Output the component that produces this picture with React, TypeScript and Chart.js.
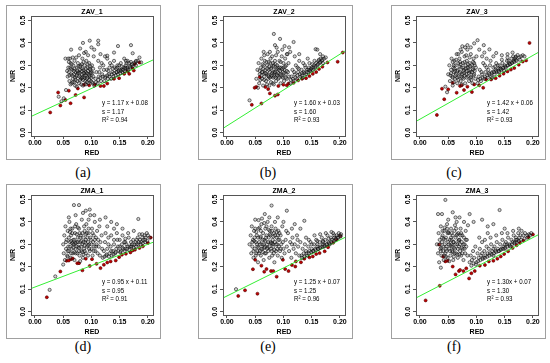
import React, { useEffect, useRef } from "react";
import { Chart, registerables } from "chart.js";
Chart.register(...registerables);
Chart.defaults.font.family = "'Liberation Sans', Arial, sans-serif";

type P = [number, number];

const X_TICKS = [0, 0.05, 0.1, 0.15, 0.2];
const X_TICK_LABELS = ["0.00", "0.05", "0.10", "0.15", "0.20"];
const Y_TICKS = [0, 0.1, 0.2, 0.3, 0.4, 0.5];
const Y_TICK_LABELS = ["0.0", "0.1", "0.2", "0.3", "0.4", "0.5"];
const X_LABEL = "RED";
const Y_LABEL = "NIR";

const TITLES = ["ZAV_1", "ZAV_2", "ZAV_3", "ZMA_1", "ZMA_2", "ZMA_3"];
const LETTERS = ["(a)", "(b)", "(c)", "(d)", "(e)", "(f)"];
const EQUATIONS = [
  ["y = 1.17 x + 0.08", "s = 1.17", "R² = 0.94"],
  ["y = 1.60 x + 0.03", "s = 1.60", "R² = 0.93"],
  ["y = 1.42 x + 0.06", "s = 1.42", "R² = 0.93"],
  ["y = 0.95 x + 0.11", "s = 0.95", "R² = 0.91"],
  ["y = 1.25 x + 0.07", "s = 1.25", "R² = 0.96"],
  ["y = 1.30x + 0.07", "s = 1.30", "R² = 0.93"],
];

// Fitted line end points (RED, NIR) at the plot edges
const A_LINE: P[] = [[-0.007, 0.072], [0.209, 0.324]];
const B_LINE: P[] = [[-0.007, 0.019], [0.209, 0.364]];
const C_LINE: P[] = [[-0.007, 0.050], [0.209, 0.357]];
const D_LINE: P[] = [[-0.007, 0.103], [0.209, 0.309]];
const E_LINE: P[] = [[-0.007, 0.061], [0.209, 0.331]];
const F_LINE: P[] = [[-0.007, 0.061], [0.209, 0.342]];

const A_GRAY: P[] = [
  [.058,.25],[.060,.27],[.061,.23],[.062,.29],[.063,.31],[.064,.26],[.065,.22],[.066,.28],[.067,.24],[.068,.30],[.069,.26],[.070,.32],[.071,.21],[.072,.27],[.073,.25],[.074,.29],[.075,.23],[.076,.31],[.077,.27],[.078,.22],[.079,.25],[.080,.28],[.081,.30],[.082,.24],[.083,.26],[.084,.33],[.085,.21],[.086,.28],[.087,.25],[.088,.30],[.089,.23],[.090,.27],[.091,.32],[.092,.24],[.093,.29],[.094,.22],[.095,.26],[.096,.31],[.097,.25],[.098,.28],[.099,.23],[.100,.27],[.101,.30],[.102,.22],[.103,.25],[.104,.34],
  [.059,.29],[.062,.33],[.066,.255],[.070,.285],[.074,.205],[.078,.345],[.082,.215],[.086,.315],[.090,.215],[.094,.345],[.063,.215],[.067,.335],[.071,.245],[.076,.265],[.080,.235],[.084,.285],[.088,.265],[.092,.265],[.096,.235],[.100,.245],[.057,.275],[.060,.315],[.073,.335],[.083,.305],[.087,.355],[.093,.305],
  [.061,.255],[.064,.285],[.067,.225],[.069,.275],[.072,.235],[.074,.255],[.077,.295],[.079,.265],[.081,.245],[.083,.275],[.085,.235],[.086,.265],[.088,.245],[.090,.285],[.092,.225],[.094,.275],[.096,.255],[.098,.295],[.099,.265],[.101,.225],[.103,.285],[.065,.305],[.070,.225],[.075,.275],[.080,.295],[.084,.245],[.089,.255],[.093,.245],[.097,.285],[.102,.265],
  [.105,.21],[.107,.24],[.109,.27],[.111,.22],[.113,.25],[.115,.29],[.117,.23],[.119,.26],[.121,.30],[.123,.23],[.125,.25],[.127,.28],[.129,.24],[.131,.26],[.133,.31],[.135,.24],[.137,.27],[.139,.25],[.141,.29],[.143,.255],[.145,.27],[.147,.26],[.149,.30],[.151,.265],[.153,.28],[.155,.27],[.157,.29],[.159,.275],[.161,.30],[.163,.285],[.165,.28],[.167,.31],[.169,.29],[.171,.30],[.173,.295],[.176,.31],[.179,.30],[.182,.32],[.112,.32],[.118,.31],[.124,.34],[.132,.29],[.140,.32],[.146,.30],[.152,.31],[.158,.33],[.164,.32],[.128,.33],[.136,.30],[.144,.285],[.150,.28],[.160,.29],[.170,.315],[.185,.335],
  [.108,.225],[.112,.235],[.116,.245],[.120,.25],[.124,.245],[.128,.255],[.132,.25],[.136,.26],[.140,.265],[.144,.27],[.148,.275],[.152,.275],[.156,.28],[.160,.285],[.164,.29],[.168,.295],[.172,.305],[.178,.315],[.114,.27],[.122,.28],[.130,.275],[.138,.285],[.146,.29],[.154,.295],[.162,.31],
  [.085,.40],[.097,.41],[.112,.41],[.112,.394],[.170,.39],[.147,.386],[.064,.37],[.080,.375],[.054,.33],[.059,.33],[.140,.357],[.116,.35],[.128,.343],[.173,.354],[.179,.32],[.188,.313],[.161,.32],[.100,.38],[.090,.36],[.105,.37],
  [.042,.16],[.051,.153],[.047,.14],[.055,.19],
];
const A_RED: P[] = [
  [.027,.09],[.041,.179],[.045,.121],[.054,.146],[.060,.187],[.063,.131],[.072,.168],[.076,.197],[.087,.157],[.087,.214],[.096,.211],[.106,.214],[.116,.208],[.122,.208],[.128,.219],[.140,.240],[.149,.243],[.158,.262],[.167,.262],[.173,.287],[.177,.306],[.185,.313],[.175,.277],[.164,.273],
];

const B_GRAY: P[] = [
  [.052,.24],[.054,.28],[.056,.31],[.057,.22],[.058,.26],[.060,.29],[.061,.33],[.062,.24],[.063,.27],[.064,.21],[.065,.30],[.066,.25],[.067,.32],[.068,.28],[.069,.23],[.070,.26],[.071,.30],[.072,.35],[.073,.24],[.074,.28],[.075,.21],[.076,.27],[.077,.31],[.078,.25],[.079,.29],[.080,.34],[.081,.22],[.082,.27],[.083,.30],[.084,.25],[.085,.32],[.086,.28],[.087,.23],[.088,.26],[.089,.30],[.090,.36],[.091,.24],[.092,.28],[.093,.32],[.094,.26],[.095,.22],[.096,.29],[.097,.34],[.098,.25],[.099,.27],[.100,.31],[.101,.23],[.102,.28],[.103,.33],[.104,.26],[.105,.30],[.106,.24],[.107,.35],[.108,.27],[.109,.31],[.110,.25],
  [.059,.235],[.063,.305],[.067,.265],[.071,.215],[.075,.295],[.079,.255],[.083,.215],[.087,.345],[.091,.265],[.095,.315],[.099,.245],[.103,.295],[.066,.345],[.074,.315],[.082,.245],[.090,.29],[.078,.225],[.086,.305],
  [.058,.275],[.061,.255],[.064,.285],[.066,.235],[.069,.265],[.071,.285],[.073,.255],[.076,.245],[.078,.285],[.080,.265],[.082,.295],[.084,.265],[.086,.245],[.088,.285],[.089,.255],[.092,.245],[.094,.275],[.096,.255],[.098,.285],[.101,.265],[.104,.245],[.106,.275],[.070,.315],[.077,.33],[.085,.27],[.093,.29],[.100,.29],[.062,.27],[.074,.25],[.081,.31],
  [.083,.44],[.094,.418],[.118,.404],[.157,.372],[.102,.386],[.088,.379],[.076,.36],[.098,.37],[.112,.36],[.106,.35],[.120,.34],[.128,.35],[.085,.39],[.065,.36],[.110,.38],
  [.112,.22],[.114,.25],[.116,.28],[.118,.23],[.120,.26],[.122,.30],[.124,.24],[.126,.27],[.128,.32],[.130,.25],[.132,.28],[.134,.245],[.136,.27],[.138,.30],[.140,.26],[.142,.28],[.144,.27],[.146,.31],[.148,.28],[.150,.29],[.152,.28],[.154,.30],[.156,.29],[.158,.31],[.160,.30],[.162,.32],[.164,.31],[.166,.33],[.168,.32],[.170,.34],[.172,.33],[.175,.335],[.125,.29],[.135,.31],[.145,.29],[.155,.32],[.165,.35],[.160,.37],[.170,.31],[.143,.33],[.133,.265],[.147,.275],
  [.113,.235],[.117,.24],[.121,.245],[.125,.255],[.129,.26],[.133,.255],[.137,.265],[.141,.27],[.145,.28],[.149,.285],[.153,.29],[.157,.295],[.161,.305],[.165,.315],[.169,.325],[.119,.27],[.127,.285],[.139,.29],[.151,.305],[.163,.325],
  [.040,.144],[.055,.20],
];
const B_RED: P[] = [
  [.044,.124],[.049,.20],[.052,.204],[.058,.248],[.061,.13],[.068,.204],[.073,.194],[.076,.175],[.085,.165],[.090,.17],[.091,.208],[.100,.214],[.106,.211],[.109,.219],[.118,.222],[.126,.233],[.133,.24],[.140,.243],[.146,.252],[.152,.262],[.158,.27],[.163,.284],[.169,.294],[.178,.313],[.196,.316],[.205,.357],
];

const C_GRAY: P[] = [
  [.050,.26],[.052,.30],[.053,.23],[.055,.28],[.056,.33],[.057,.25],[.058,.21],[.059,.29],[.060,.27],[.061,.32],[.062,.24],[.063,.30],[.064,.26],[.065,.35],[.066,.22],[.067,.28],[.068,.31],[.069,.25],[.070,.33],[.071,.27],[.072,.23],[.073,.29],[.074,.36],[.075,.26],[.076,.31],[.077,.24],[.078,.28],[.079,.34],[.080,.22],[.081,.30],[.082,.26],[.083,.32],[.084,.37],[.085,.25],[.086,.29],[.087,.23],[.088,.31],[.089,.27],[.090,.35],[.091,.25],[.092,.30],[.093,.22],[.094,.28],[.095,.33],[.096,.26],[.097,.30],[.098,.24],[.099,.29],[.100,.34],
  [.054,.255],[.058,.315],[.062,.275],[.066,.245],[.070,.295],[.074,.215],[.078,.265],[.082,.345],[.086,.275],[.090,.245],[.094,.315],[.060,.225],[.068,.35],[.076,.29],[.084,.29],[.092,.27],[.072,.37],[.080,.38],
  [.055,.265],[.058,.245],[.061,.285],[.063,.255],[.066,.275],[.068,.235],[.070,.265],[.072,.305],[.075,.245],[.077,.275],[.079,.255],[.081,.285],[.083,.245],[.085,.305],[.087,.265],[.089,.295],[.091,.235],[.093,.285],[.095,.255],[.097,.275],[.064,.325],[.071,.315],[.079,.315],[.088,.335],[.096,.31],[.060,.30],[.083,.275],[.073,.25],
  [.102,.412],[.084,.39],[.096,.398],[.114,.357],[.123,.371],[.164,.357],[.170,.339],[.105,.37],[.110,.34],[.118,.33],[.090,.38],[.075,.385],[.130,.34],[.145,.345],[.155,.35],[.135,.355],[.113,.39],
  [.102,.22],[.104,.25],[.106,.28],[.108,.23],[.110,.26],[.112,.31],[.114,.24],[.116,.27],[.118,.29],[.120,.245],[.122,.265],[.124,.30],[.126,.25],[.128,.27],[.130,.29],[.132,.26],[.134,.28],[.136,.27],[.138,.30],[.140,.27],[.142,.285],[.144,.28],[.146,.31],[.148,.29],[.150,.30],[.152,.29],[.154,.32],[.156,.30],[.158,.31],[.160,.305],[.162,.33],[.164,.315],[.166,.32],[.168,.33],[.170,.325],[.173,.346],[.176,.335],[.179,.34],[.182,.345],[.185,.34],[.125,.32],[.135,.31],[.145,.325],[.155,.335],[.165,.34],[.115,.30],[.128,.245],[.139,.285],[.149,.275],
  [.103,.235],[.107,.24],[.111,.245],[.115,.25],[.119,.255],[.123,.26],[.127,.265],[.131,.27],[.135,.275],[.139,.275],[.143,.285],[.147,.29],[.151,.295],[.155,.30],[.159,.305],[.163,.31],[.167,.315],[.171,.32],[.177,.325],[.109,.27],[.121,.28],[.133,.295],[.141,.30],[.157,.32],[.169,.335],
  [.045,.205],[.048,.18],
];
const C_RED: P[] = [
  [.030,.079],[.039,.196],[.043,.149],[.050,.193],[.058,.222],[.065,.178],[.071,.208],[.074,.211],[.078,.19],[.084,.205],[.092,.181],[.096,.215],[.105,.211],[.112,.20],[.117,.237],[.126,.237],[.134,.243],[.141,.254],[.148,.263],[.155,.273],[.161,.281],[.167,.288],[.175,.303],[.182,.317],[.188,.322],[.194,.40],
];

const D_GRAY: P[] = [
  [.050,.30],[.051,.26],[.052,.34],[.053,.23],[.054,.38],[.055,.28],[.056,.32],[.057,.25],[.058,.36],[.059,.29],[.060,.27],[.061,.40],[.062,.31],[.063,.24],[.064,.34],[.065,.28],[.066,.37],[.067,.26],[.068,.32],[.069,.30],[.070,.23],[.071,.35],[.072,.28],[.073,.39],[.074,.31],[.075,.26],[.076,.33],[.077,.29],[.078,.37],[.079,.25],[.080,.31],[.081,.34],[.082,.27],[.083,.41],[.084,.30],[.085,.24],[.086,.33],[.087,.28],[.088,.36],[.089,.31],[.090,.26],[.091,.39],[.092,.29],[.093,.33],[.094,.25],[.095,.35],[.096,.30],[.097,.27],[.098,.43],[.099,.32],[.100,.28],[.101,.37],[.102,.25],[.103,.31],[.104,.34],[.105,.29],[.106,.40],[.107,.27],[.108,.33],[.109,.30],[.110,.36],[.111,.26],[.112,.32],[.113,.29],[.114,.38],[.115,.25],[.116,.31],[.118,.34],[.119,.28],
  [.058,.245],[.062,.355],[.066,.305],[.070,.265],[.074,.345],[.078,.285],[.082,.315],[.086,.255],[.090,.345],[.094,.295],[.072,.305],[.080,.225],[.064,.315],[.088,.295],[.076,.375],
  [.055,.31],[.058,.27],[.060,.33],[.062,.29],[.064,.26],[.066,.35],[.068,.30],[.070,.32],[.072,.26],[.074,.29],[.076,.31],[.078,.27],[.080,.33],[.082,.29],[.084,.35],[.086,.31],[.088,.27],[.090,.32],[.092,.35],[.094,.31],[.096,.28],[.098,.33],[.100,.30],[.102,.35],[.104,.27],[.106,.32],[.108,.29],[.063,.37],[.071,.38],[.079,.35],[.087,.38],[.095,.37],[.068,.285],[.084,.265],
  [.069,.475],[.078,.475],[.090,.45],[.085,.44],[.097,.455],[.060,.42],[.072,.43],[.105,.43],[.115,.41],[.125,.42],[.135,.40],[.183,.413],[.145,.39],[.155,.37],[.128,.38],[.095,.41],
  [.120,.24],[.122,.27],[.124,.31],[.126,.25],[.128,.28],[.130,.33],[.132,.26],[.134,.29],[.136,.25],[.138,.27],[.140,.30],[.142,.26],[.144,.28],[.146,.32],[.148,.27],[.150,.29],[.152,.27],[.154,.30],[.156,.28],[.158,.31],[.160,.28],[.162,.30],[.164,.29],[.166,.33],[.168,.29],[.170,.31],[.172,.30],[.174,.32],[.176,.30],[.178,.31],[.180,.30],[.182,.33],[.184,.31],[.186,.32],[.188,.31],[.190,.33],[.192,.32],[.194,.34],[.196,.33],[.198,.35],[.200,.34],[.203,.33],[.135,.34],[.145,.35],[.155,.34],[.165,.35],[.175,.36],[.150,.32],[.160,.325],[.170,.29],[.185,.345],[.195,.31],[.125,.35],[.140,.37],
  [.123,.245],[.127,.255],[.131,.245],[.135,.27],[.139,.255],[.143,.265],[.147,.29],[.151,.265],[.155,.285],[.159,.27],[.163,.28],[.167,.275],[.171,.29],[.175,.285],[.179,.29],[.183,.30],[.187,.30],[.191,.305],[.195,.32],[.199,.315],[.130,.30],[.140,.32],[.160,.31],[.180,.32],[.190,.345],
  [.026,.097],[.036,.157],[.050,.21],
];
const D_RED: P[] = [
  [.021,.064],[.045,.179],[.056,.227],[.060,.228],[.064,.234],[.067,.237],[.075,.216],[.078,.216],[.084,.184],[.090,.236],[.097,.204],[.101,.234],[.109,.213],[.116,.194],[.122,.209],[.128,.219],[.134,.224],[.143,.228],[.149,.243],[.154,.254],[.161,.258],[.169,.264],[.173,.273],[.177,.276],[.185,.284],[.191,.291],[.200,.306],[.205,.33],
];

const E_GRAY: P[] = [
  [.040,.30],[.042,.34],[.043,.26],[.044,.38],[.045,.29],[.046,.32],[.047,.24],[.048,.36],[.049,.28],[.050,.41],[.051,.31],[.052,.26],[.053,.34],[.054,.29],[.055,.22],[.056,.37],[.057,.31],[.058,.27],[.059,.33],[.060,.25],[.061,.39],[.062,.30],[.063,.28],[.064,.35],[.065,.23],[.066,.32],[.067,.29],[.068,.37],[.069,.26],[.070,.34],[.071,.30],[.072,.40],[.073,.27],[.074,.33],[.075,.24],[.076,.36],[.077,.31],[.078,.28],[.079,.38],[.080,.25],[.081,.32],[.082,.29],[.083,.35],[.084,.22],[.085,.31],[.086,.37],[.087,.27],[.088,.33],[.089,.30],[.090,.25],[.091,.36],[.092,.29],[.093,.32],[.094,.27],[.095,.34],[.096,.30],[.097,.24],[.098,.38],[.099,.31],[.100,.28],
  [.048,.315],[.052,.355],[.056,.285],[.060,.335],[.064,.265],[.068,.315],[.072,.285],[.076,.345],[.080,.305],[.084,.275],[.088,.355],[.058,.375],[.066,.395],[.074,.365],[.082,.335],
  [.045,.31],[.047,.27],[.049,.33],[.051,.25],[.053,.30],[.055,.33],[.057,.26],[.059,.30],[.061,.28],[.063,.32],[.065,.30],[.067,.26],[.069,.33],[.071,.28],[.073,.31],[.075,.29],[.077,.34],[.079,.27],[.081,.30],[.083,.26],[.085,.34],[.087,.30],[.089,.28],[.091,.32],[.093,.35],[.095,.28],[.050,.37],[.060,.36],[.070,.38],[.080,.36],[.090,.34],[.054,.27],[.066,.285],[.078,.305],
  [.079,.473],[.106,.45],[.067,.435],[.137,.405],[.056,.408],[.090,.42],[.075,.42],[.100,.40],[.120,.39],[.062,.415],[.085,.40],[.115,.37],[.130,.37],
  [.102,.26],[.104,.32],[.106,.29],[.108,.35],[.110,.27],[.112,.31],[.114,.24],[.116,.33],[.118,.28],[.120,.30],[.122,.26],[.124,.34],[.126,.29],[.128,.25],[.130,.31],[.105,.36],[.115,.30],[.125,.32],
  [.132,.25],[.134,.28],[.136,.26],[.138,.30],[.140,.27],[.142,.25],[.144,.29],[.146,.27],[.148,.31],[.150,.28],[.152,.27],[.154,.30],[.156,.28],[.158,.32],[.160,.29],[.162,.28],[.164,.31],[.166,.29],[.168,.33],[.170,.30],[.172,.29],[.174,.32],[.176,.30],[.178,.34],[.180,.31],[.182,.30],[.184,.33],[.186,.32],[.188,.35],[.190,.33],[.192,.32],[.194,.34],[.196,.33],[.198,.35],[.200,.34],[.202,.345],[.145,.32],[.155,.34],[.165,.345],[.175,.35],[.185,.355],[.160,.315],[.170,.315],[.140,.33],
  [.133,.24],[.137,.245],[.141,.26],[.145,.26],[.149,.265],[.153,.27],[.157,.275],[.161,.28],[.165,.285],[.169,.29],[.173,.295],[.177,.30],[.181,.305],[.185,.31],[.189,.315],[.193,.325],[.197,.33],[.201,.335],[.150,.30],[.160,.30],[.170,.31],[.180,.325],[.190,.34],
  [.016,.10],
];
const E_RED: P[] = [
  [.020,.07],[.032,.095],[.054,.08],[.046,.189],[.050,.231],[.061,.205],[.066,.178],[.070,.19],[.078,.181],[.082,.181],[.088,.156],[.103,.19],[.109,.181],[.115,.208],[.121,.201],[.122,.224],[.131,.22],[.137,.236],[.146,.242],[.152,.246],[.158,.257],[.164,.261],[.173,.269],[.179,.287],[.188,.307],[.194,.322],[.201,.337],[.099,.231],
];

const F_GRAY: P[] = [
  [.030,.30],[.032,.26],[.033,.35],[.034,.22],[.035,.32],[.036,.28],[.037,.38],[.038,.25],[.039,.31],[.040,.34],[.041,.27],[.042,.23],[.043,.36],[.044,.30],[.045,.26],[.046,.33],[.047,.29],[.048,.39],[.049,.24],[.050,.31],[.051,.35],[.052,.28],[.053,.32],[.054,.25],[.055,.37],[.056,.30],[.057,.27],[.058,.34],[.059,.23],[.060,.31],[.061,.36],[.062,.28],[.063,.33],[.064,.26],[.065,.40],[.066,.30],[.067,.24],[.068,.35],[.069,.29],[.070,.32],[.071,.27],[.072,.37],[.073,.25],[.074,.31],[.075,.34],[.076,.28],[.077,.23],[.078,.33],[.079,.30],[.080,.26],[.081,.36],[.082,.29],[.083,.32],[.084,.25],
  [.038,.285],[.042,.325],[.046,.245],[.050,.355],[.054,.295],[.058,.265],[.062,.385],[.066,.345],[.070,.255],[.074,.285],[.044,.375],[.052,.225],[.060,.245],[.068,.315],[.056,.32],
  [.035,.30],[.037,.27],[.039,.33],[.041,.29],[.043,.25],[.045,.32],[.047,.27],[.049,.35],[.051,.30],[.053,.27],[.055,.33],[.057,.29],[.059,.31],[.061,.26],[.063,.30],[.065,.34],[.067,.28],[.069,.32],[.071,.30],[.073,.35],[.075,.26],[.077,.30],[.079,.28],[.081,.32],[.040,.36],[.048,.37],[.056,.35],[.064,.37],[.072,.34],[.046,.28],[.060,.285],[.066,.255],
  [.045,.498],[.032,.435],[.039,.435],[.058,.443],[.088,.435],[.141,.453],[.070,.42],[.050,.41],[.063,.42],[.078,.40],[.095,.40],[.110,.41],[.120,.38],[.085,.385],[.130,.39],
  [.088,.22],[.090,.25],[.092,.23],[.094,.27],[.096,.24],[.098,.29],[.100,.22],[.102,.26],[.104,.24],[.106,.28],[.108,.25],[.110,.31],[.112,.24],[.114,.27],[.116,.25],[.118,.29],[.120,.26],[.122,.28],[.124,.26],[.126,.30],[.128,.27],[.130,.25],[.132,.29],[.134,.27],[.136,.31],[.138,.28],[.140,.27],[.142,.30],[.144,.28],[.146,.32],[.148,.29],[.150,.28],[.152,.31],[.154,.30],[.156,.33],[.158,.30],[.160,.29],[.162,.32],[.164,.31],[.166,.34],[.168,.31],[.170,.33],[.172,.32],[.174,.35],[.176,.33],[.178,.34],[.180,.36],[.183,.34],[.186,.35],[.190,.34],[.193,.345],[.197,.35],[.105,.33],[.115,.32],[.125,.33],[.135,.34],[.145,.35],[.155,.35],[.165,.36],[.175,.37],[.120,.35],[.150,.37],
  [.091,.205],[.095,.215],[.099,.21],[.103,.225],[.107,.23],[.111,.235],[.115,.24],[.119,.245],[.123,.25],[.127,.255],[.131,.26],[.135,.265],[.139,.27],[.143,.275],[.147,.28],[.151,.285],[.155,.29],[.159,.295],[.163,.30],[.167,.305],[.171,.31],[.175,.315],[.179,.32],[.185,.325],[.190,.33],[.195,.34],[.110,.26],[.130,.28],[.150,.30],[.170,.32],
  [.037,.196],
];
const F_RED: P[] = [
  [.010,.05],[.034,.299],[.035,.115],[.041,.246],[.045,.224],[.049,.227],[.058,.201],[.063,.166],[.069,.181],[.071,.186],[.077,.181],[.082,.193],[.087,.148],[.091,.171],[.097,.181],[.106,.205],[.115,.208],[.122,.224],[.130,.227],[.137,.236],[.143,.246],[.149,.257],[.156,.269],[.164,.284],[.171,.296],[.177,.307],[.183,.317],[.192,.332],[.200,.344],
];

const PANELS = [
  { gray: A_GRAY, red: A_RED, line: A_LINE },
  { gray: B_GRAY, red: B_RED, line: B_LINE },
  { gray: C_GRAY, red: C_RED, line: C_LINE },
  { gray: D_GRAY, red: D_RED, line: D_LINE },
  { gray: E_GRAY, red: E_RED, line: E_LINE },
  { gray: F_GRAY, red: F_RED, line: F_LINE },
];

// layout (px)
const COL_X = [6, 198, 391];
const ROW_Y = [5, 184];
const BOX_W = 155;
const BOX_H = 155;
const LETTER_X = [83, 268, 454];
const LETTER_Y = [173, 347];

const toXY = (arr: P[]) => arr.map(([x, y]) => ({ x, y }));

function Panel({ idx }: { idx: number }) {
  const ref = useRef<HTMLCanvasElement>(null);
  useEffect(() => {
    const p = PANELS[idx];
    const title = TITLES[idx];
    const eq = EQUATIONS[idx];
    const decor = {
      id: "decor" + idx,
      afterDraw(chart: any) {
        const ctx = chart.ctx as CanvasRenderingContext2D;
        const a = chart.chartArea;
        const ys = chart.scales.y;
        ctx.save();
        // outer frame
        ctx.strokeStyle = "#a0a0a0";
        ctx.lineWidth = 1;
        ctx.strokeRect(0.5, 0.5, chart.width - 1, chart.height - 1);
        // plot box
        ctx.strokeStyle = "#555";
        ctx.strokeRect(Math.round(a.left) + 0.5, Math.round(a.top) + 0.5, Math.round(a.right - a.left), Math.round(a.bottom - a.top));
        // title
        ctx.fillStyle = "#000";
        ctx.font = "bold 7px 'Liberation Sans', Arial, sans-serif";
        ctx.textAlign = "center";
        ctx.textBaseline = "middle";
        ctx.fillText(title, (a.left + a.right) / 2, 7);
        // rotated y tick labels
        Y_TICKS.forEach((v, i) => {
          const py = ys.getPixelForValue(v);
          ctx.save();
          ctx.translate(17, py);
          ctx.rotate(-Math.PI / 2);
          ctx.fillText(Y_TICK_LABELS[i], 0, 0);
          ctx.restore();
        });
        // equation text (narrow)
        ctx.font = "7.5px 'Liberation Sans', Arial, sans-serif";
        ctx.textAlign = "left";
        eq.forEach((t, i) => {
          ctx.save();
          ctx.translate(a.left + 71, a.top + 87 + i * 8.5);
          ctx.scale(0.82, 1);
          ctx.fillText(t, 0, 0);
          ctx.restore();
        });
        ctx.restore();
      },
    };
    const chart = new Chart(ref.current!, {
      type: "scatter",
      data: {
        datasets: [
          {
            data: toXY(p.gray),
            pointRadius: 1.6,
            pointBorderWidth: 0.8,
            pointBorderColor: "rgba(0,0,0,0.68)",
            pointBackgroundColor: "rgba(110,110,110,0.3)",
          } as any,
          {
            data: toXY(p.line),
            showLine: true,
            borderColor: "#33ee33",
            borderWidth: 1,
            pointRadius: 0,
          } as any,
          {
            data: toXY(p.red),
            pointRadius: 1.5,
            pointBorderWidth: 0.6,
            pointBorderColor: "#500000",
            pointBackgroundColor: "#c00000",
          } as any,
        ],
      },
      options: {
        responsive: false,
        animation: false,
        devicePixelRatio: 1,
        events: [],
        layout: { padding: { top: 11, right: 8, left: 0, bottom: 0 } },
        plugins: { legend: { display: false }, tooltip: { enabled: false }, title: { display: false } },
        scales: {
          x: {
            type: "linear",
            min: -0.007,
            max: 0.209,
            afterBuildTicks: (s: any) => { s.ticks = X_TICKS.map((v) => ({ value: v })); },
            afterFit: (s: any) => { s.height = 24; },
            ticks: {
              callback: (_v: any, i: number) => X_TICK_LABELS[i],
              font: { size: 7, weight: "bold" },
              color: "#000",
              padding: 0,
              autoSkip: false,
              maxRotation: 0,
              minRotation: 0,
            },
            grid: { drawOnChartArea: false, tickLength: 3, color: "#555" },
            border: { display: false },
            title: { display: true, text: X_LABEL, color: "#000", font: { size: 7, weight: "bold" }, padding: { top: 0, bottom: 3 } },
          },
          y: {
            type: "linear",
            min: -0.015,
            max: 0.52,
            afterBuildTicks: (s: any) => { s.ticks = Y_TICKS.map((v) => ({ value: v })); },
            afterFit: (s: any) => { s.width = 25; },
            ticks: { display: false },
            grid: { drawOnChartArea: false, tickLength: 3, color: "#555" },
            border: { display: false },
            title: { display: true, text: Y_LABEL, color: "#000", font: { size: 7, weight: "bold" }, padding: { top: 3, bottom: 0 } },
          },
        },
      } as any,
      plugins: [decor],
    });
    return () => chart.destroy();
  }, [idx]);
  const col = idx % 3;
  const row = Math.floor(idx / 3);
  return (
    <canvas
      ref={ref}
      width={BOX_W}
      height={BOX_H}
      style={{ position: "absolute", left: COL_X[col], top: ROW_Y[row], width: BOX_W, height: BOX_H }}
    />
  );
}

export default function App() {
  return (
    <div style={{ position: "fixed", left: 0, top: 0, width: 550, height: 363, background: "#fff", overflow: "hidden" }}>
      {PANELS.map((_, i) => (
        <Panel key={i} idx={i} />
      ))}
      {LETTERS.map((t, i) => (
        <div
          key={t}
          style={{
            position: "absolute",
            left: LETTER_X[i % 3],
            top: LETTER_Y[Math.floor(i / 3)],
            transform: "translate(-50%, -50%)",
            font: "14px 'Liberation Serif', 'Times New Roman', serif",
            color: "#000",
            whiteSpace: "nowrap",
          }}
        >
          {t}
        </div>
      ))}
    </div>
  );
}
